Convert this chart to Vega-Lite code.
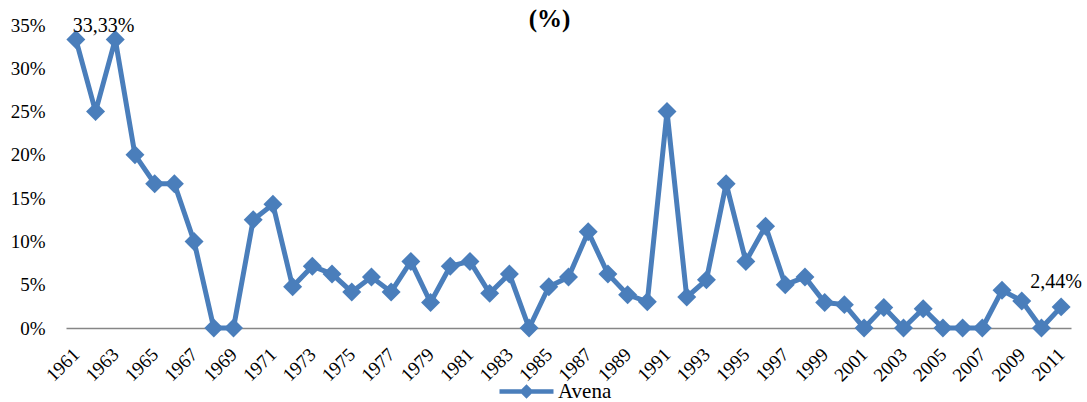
{
  "$schema": "https://vega.github.io/schema/vega-lite/v6.json",
  "autosize": {"type": "none"},
  "width": 1005,
  "height": 303,
  "padding": {"left": 66, "top": 25, "right": 16, "bottom": 74},
  "background": "white",
  "config": {"view": {"stroke": null}, "font": "Liberation Serif", "title": {"font": "Liberation Serif", "fontWeight": "bold"}},
  "title": {"text": "(%)", "font": "Liberation Serif", "fontSize": 25, "fontWeight": "bold", "color": "black", "anchor": "middle", "offset": 0, "baseline": "alphabetic", "dy": 36, "dx": -19},
  "data": {"values": [
    {"year": 1961, "value": 0.3333, "label": "33,33%", "series": "Avena"},
    {"year": 1962, "value": 0.25, "label": null, "series": "Avena"},
    {"year": 1963, "value": 0.3333, "label": null, "series": "Avena"},
    {"year": 1964, "value": 0.20, "label": null, "series": "Avena"},
    {"year": 1965, "value": 0.1667, "label": null, "series": "Avena"},
    {"year": 1966, "value": 0.1667, "label": null, "series": "Avena"},
    {"year": 1967, "value": 0.10, "label": null, "series": "Avena"},
    {"year": 1968, "value": 0.0, "label": null, "series": "Avena"},
    {"year": 1969, "value": 0.0, "label": null, "series": "Avena"},
    {"year": 1970, "value": 0.125, "label": null, "series": "Avena"},
    {"year": 1971, "value": 0.1429, "label": null, "series": "Avena"},
    {"year": 1972, "value": 0.0476, "label": null, "series": "Avena"},
    {"year": 1973, "value": 0.0714, "label": null, "series": "Avena"},
    {"year": 1974, "value": 0.0625, "label": null, "series": "Avena"},
    {"year": 1975, "value": 0.0417, "label": null, "series": "Avena"},
    {"year": 1976, "value": 0.0588, "label": null, "series": "Avena"},
    {"year": 1977, "value": 0.0417, "label": null, "series": "Avena"},
    {"year": 1978, "value": 0.0769, "label": null, "series": "Avena"},
    {"year": 1979, "value": 0.0294, "label": null, "series": "Avena"},
    {"year": 1980, "value": 0.0714, "label": null, "series": "Avena"},
    {"year": 1981, "value": 0.0769, "label": null, "series": "Avena"},
    {"year": 1982, "value": 0.04, "label": null, "series": "Avena"},
    {"year": 1983, "value": 0.0625, "label": null, "series": "Avena"},
    {"year": 1984, "value": 0.0, "label": null, "series": "Avena"},
    {"year": 1985, "value": 0.0476, "label": null, "series": "Avena"},
    {"year": 1986, "value": 0.0588, "label": null, "series": "Avena"},
    {"year": 1987, "value": 0.1111, "label": null, "series": "Avena"},
    {"year": 1988, "value": 0.0625, "label": null, "series": "Avena"},
    {"year": 1989, "value": 0.0385, "label": null, "series": "Avena"},
    {"year": 1990, "value": 0.0303, "label": null, "series": "Avena"},
    {"year": 1991, "value": 0.25, "label": null, "series": "Avena"},
    {"year": 1992, "value": 0.0357, "label": null, "series": "Avena"},
    {"year": 1993, "value": 0.0556, "label": null, "series": "Avena"},
    {"year": 1994, "value": 0.1667, "label": null, "series": "Avena"},
    {"year": 1995, "value": 0.0769, "label": null, "series": "Avena"},
    {"year": 1996, "value": 0.1176, "label": null, "series": "Avena"},
    {"year": 1997, "value": 0.05, "label": null, "series": "Avena"},
    {"year": 1998, "value": 0.0588, "label": null, "series": "Avena"},
    {"year": 1999, "value": 0.0294, "label": null, "series": "Avena"},
    {"year": 2000, "value": 0.027, "label": null, "series": "Avena"},
    {"year": 2001, "value": 0.0, "label": null, "series": "Avena"},
    {"year": 2002, "value": 0.0238, "label": null, "series": "Avena"},
    {"year": 2003, "value": 0.0, "label": null, "series": "Avena"},
    {"year": 2004, "value": 0.0222, "label": null, "series": "Avena"},
    {"year": 2005, "value": 0.0, "label": null, "series": "Avena"},
    {"year": 2006, "value": 0.0, "label": null, "series": "Avena"},
    {"year": 2007, "value": 0.0, "label": null, "series": "Avena"},
    {"year": 2008, "value": 0.0435, "label": null, "series": "Avena"},
    {"year": 2009, "value": 0.0313, "label": null, "series": "Avena"},
    {"year": 2010, "value": 0.0, "label": null, "series": "Avena"},
    {"year": 2011, "value": 0.0244, "label": "2,44%", "series": "Avena"}
  ]},
  "encoding": {
    "x": {"field": "year", "type": "ordinal", "scale": {"type": "point", "padding": 0.5},
      "axis": {"title": null, "values": [1961,1963,1965,1967,1969,1971,1973,1975,1977,1979,1981,1983,1985,1987,1989,1991,1993,1995,1997,1999,2001,2003,2005,2007,2009,2011],
        "labelAngle": -45, "labelAlign": "right", "labelBaseline": "middle", "labelPadding": 23, "labelFont": "Liberation Serif", "labelFontSize": 19, "labelColor": "black",
        "ticks": false, "domain": true, "domainColor": "#868686", "domainWidth": 1.5, "grid": false, "labelOverlap": false}},
    "y": {"field": "value", "type": "quantitative", "scale": {"domain": [0, 0.35], "nice": false},
      "axis": {"title": null, "values": [0,0.05,0.1,0.15,0.2,0.25,0.3,0.35], "format": ".0%", "domain": false, "ticks": false, "grid": false,
        "labelFont": "Liberation Serif", "labelFontSize": 19, "labelColor": "black", "labelPadding": 21}}
  },
  "layer": [
    {"mark": {"type": "line", "strokeWidth": 5},
     "encoding": {"color": {"field": "series", "type": "nominal", "scale": {"domain": ["Avena"], "range": ["#4a7ebb"]},
       "legend": {"title": null, "orient": "none", "legendX": 450, "legendY": 356, "padding": 0,
         "symbolType": "M-3,-0.25L3,-0.25L3,0.25L-3,0.25Z M-0.8,0L0,-0.8L0.8,0L0,0.8Z", "symbolSize": 324,
         "symbolFillColor": "#4a7ebb", "symbolStrokeWidth": 0, "labelOffset": 21,
         "labelFont": "Liberation Serif", "labelFontSize": 21, "labelColor": "black"}}}},
    {"mark": {"type": "point", "shape": "diamond", "filled": true, "size": 360, "opacity": 1},
     "encoding": {"color": {"field": "series", "type": "nominal", "legend": null}}},
    {"transform": [{"filter": "datum.year == 1961"}],
     "mark": {"type": "text", "font": "Liberation Serif", "fontSize": 20, "color": "black", "baseline": "alphabetic", "align": "left", "dx": -3, "dy": -7},
     "encoding": {"text": {"field": "label"}}},
    {"transform": [{"filter": "datum.year == 2011"}],
     "mark": {"type": "text", "font": "Liberation Serif", "fontSize": 20, "color": "black", "baseline": "alphabetic", "align": "center", "dx": -5, "dy": -19},
     "encoding": {"text": {"field": "label"}}}
  ]
}
